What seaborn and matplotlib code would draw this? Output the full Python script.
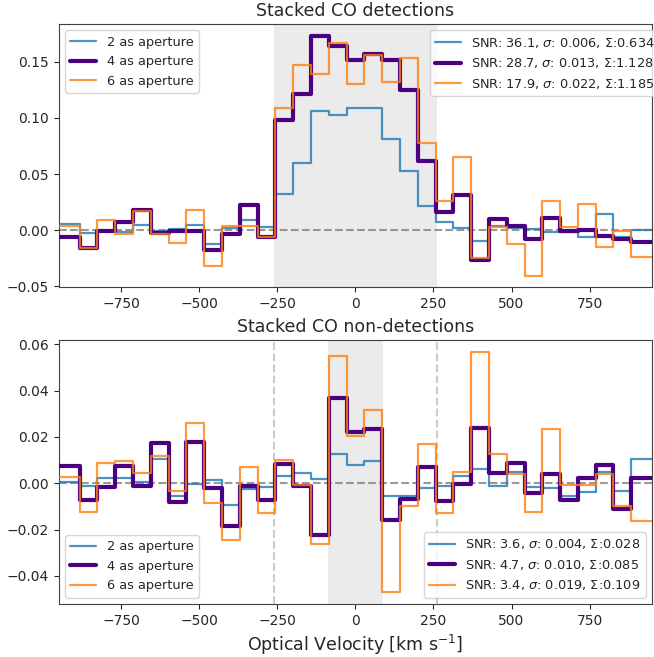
import numpy as np
import pandas as pd
import matplotlib
matplotlib.use("Agg")
import matplotlib.pyplot as plt
import seaborn as sns

# Channel centres of the stacked spectra [km/s]
velocity = [-912, -855, -798, -741, -684, -627, -570, -513, -456, -399, -342,
            -285, -228, -171, -114, -57, 0, 57, 114, 171, 228, 285, 342, 399,
            456, 513, 570, 627, 684, 741, 798, 855, 912]

# Stacked flux for the CO detections
det_2as = [0.0054, -0.0030, -0.0012, -0.0018, 0.0048, -0.0010, 0.0005, 0.0048,
           -0.0125, 0.0018, 0.0093, 0.0030, 0.0320, 0.0600, 0.1060, 0.1030,
           0.1090, 0.1090, 0.0815, 0.0525, 0.0210, 0.0070, 0.0018, -0.0100,
           0.0040, 0.0018, 0.0006, -0.0018, -0.0018, -0.0060, 0.0143, -0.0060,
           0.0000]
det_4as = [-0.0066, -0.0164, -0.0006, 0.0072, 0.0179, -0.0024, -0.0012, -0.0012,
           -0.0179, -0.0036, 0.0227, -0.0066, 0.0985, 0.1210, 0.1730, 0.1640,
           0.1520, 0.1570, 0.1520, 0.1250, 0.0615, 0.0158, 0.0316, -0.0269,
           0.0101, 0.0036, -0.0081, 0.0107, -0.0012, 0.0000, -0.0051, -0.0084,
           -0.0107]
det_6as = [0.0036, -0.0164, 0.0090, -0.0036, 0.0167, -0.0036, -0.0113, 0.0179,
           -0.0319, 0.0036, 0.0036, -0.0060, 0.1090, 0.1470, 0.1397, 0.1670,
           0.1307, 0.1558, 0.1320, 0.1537, 0.0779, 0.0257, 0.0650, -0.0250,
           0.0030, -0.0125, -0.0406, 0.0263, 0.0024, 0.0230, -0.0149, -0.0012,
           -0.0239]

# Stacked flux for the CO non-detections
non_2as = [0.0006, -0.0013, 0.0024, 0.0024, 0.0004, 0.0104, -0.0056, -0.0003,
           0.0014, -0.0092, -0.0026, -0.0017, 0.0033, 0.0043, 0.0020, 0.0127,
           0.0078, 0.0094, -0.0053, -0.0053, -0.0020, -0.0013, 0.0032, 0.0063,
           -0.0010, 0.0047, -0.0017, -0.0020, -0.0055, -0.0037, 0.0047, -0.0035,
           0.0104]
non_4as = [0.0073, -0.0072, -0.0017, 0.0073, -0.0010, 0.0173, -0.0081, 0.0178,
           -0.0020, -0.0186, -0.0010, -0.0072, 0.0081, -0.0013, -0.0222, 0.0368,
           0.0220, 0.0235, -0.0158, -0.0068, 0.0072, -0.0077, -0.0003, 0.0239,
           0.0045, 0.0086, -0.0043, 0.0040, -0.0072, 0.0023, 0.0078, -0.0111,
           0.0023]
non_6as = [0.0029, -0.0125, 0.0088, 0.0094, 0.0043, 0.0117, -0.0035, 0.0259,
           -0.0086, -0.0247, 0.0069, -0.0128, 0.0102, -0.0006, -0.0262, 0.0550,
           0.0204, 0.0318, -0.0468, -0.0099, 0.0170, -0.0129, 0.0047, 0.0567,
           0.0124, 0.0040, -0.0125, 0.0236, -0.0006, -0.0006, 0.0040, -0.0099,
           -0.0161]

apertures = ["2 as aperture", "4 as aperture", "6 as aperture"]
det_snr = [36.1, 28.7, 17.9]
det_sigma = [0.006, 0.013, 0.022]
det_sum = [0.634, 1.128, 1.185]
non_snr = [3.6, 4.7, 3.4]
non_sigma = [0.004, 0.010, 0.019]
non_sum = [0.028, 0.085, 0.109]

det_window = 260   # integration window of the detections [km/s]
non_window = 88    # integration window of the non-detections [km/s]
v_lim = 950

colors = ["#1f77b4", "#4b0082", "#ff7f0e"]
widths = [1.6, 3.0, 1.6]
alphas = [0.8, 1.0, 0.8]

sns.set_style("ticks")
plt.rcParams["font.family"] = ["DejaVu Sans"]
plt.rcParams["mathtext.fontset"] = "dejavusans"

fig, (ax1, ax2) = plt.subplots(2, 1, figsize=(6.54, 6.57), dpi=100)
fig.subplots_adjust(left=0.090, right=0.997, top=0.9635, bottom=0.0807, hspace=0.201)

v = np.asarray(velocity, dtype=float)
# channel edges; the outer channels run out to the plotted velocity window
edges = np.concatenate([[-v_lim], 0.5 * (v[:-1] + v[1:]), [v_lim]])


def draw_panel(ax, spectra, snr, sigma, tot, title, left_loc, right_loc,
               right_anchor):
    handles = []
    for spec, lab, c, lw, a in zip(spectra, apertures, colors, widths, alphas):
        flux = np.asarray(spec, dtype=float)
        df = pd.DataFrame({"edge": edges, "flux": np.append(flux, flux[-1])})
        sns.lineplot(data=df, x="edge", y="flux", drawstyle="steps-post",
                     estimator=None, sort=False, color=c, linewidth=lw,
                     alpha=a, ax=ax, zorder=3)
        handles.append(ax.lines[-1])
    ax.axhline(0, ls="--", color="gray", lw=1.5, alpha=0.8, zorder=2)
    ax.set_xlim(-v_lim, v_lim)
    ax.set_title(title, fontsize=12.5)
    ax.set_ylabel("")
    ax.set_xlabel("")
    ax.tick_params(labelsize=10)
    for s in ax.spines.values():
        s.set_visible(True)
        s.set_color("0.25")
    leg1 = ax.legend(handles, apertures, loc=left_loc, fontsize=9.3)
    ax.add_artist(leg1)
    stats = [f"SNR: {s:.1f}, $\\sigma$: {g:.3f}, $\\Sigma$:{t:.3f}"
             for s, g, t in zip(snr, sigma, tot)]
    ax.legend(handles, stats, loc=right_loc, bbox_to_anchor=right_anchor,
              fontsize=9.3)


draw_panel(ax1, [det_2as, det_4as, det_6as], det_snr, det_sigma, det_sum,
           "Stacked CO detections", "upper left", "upper right", (1.025, 1.0))
ax1.axvspan(-det_window, det_window, color="#ebebeb", zorder=0, lw=0)
ax1.set_ylim(-0.0513, 0.1839)

draw_panel(ax2, [non_2as, non_4as, non_6as], non_snr, non_sigma, non_sum,
           "Stacked CO non-detections", "lower left", "lower right", (1.0, 0.0))
ax2.axvspan(-non_window, non_window, color="#ebebeb", zorder=0, lw=0)
for xv in (-det_window, det_window):
    ax2.axvline(xv, ls="--", color="#cccccc", lw=1.5, zorder=1)
ax2.set_ylim(-0.0521, 0.0616)
ax2.set_xlabel("Optical Velocity [km s$^{-1}$]", fontsize=12.5)

fig.savefig("out.png", dpi=100)
